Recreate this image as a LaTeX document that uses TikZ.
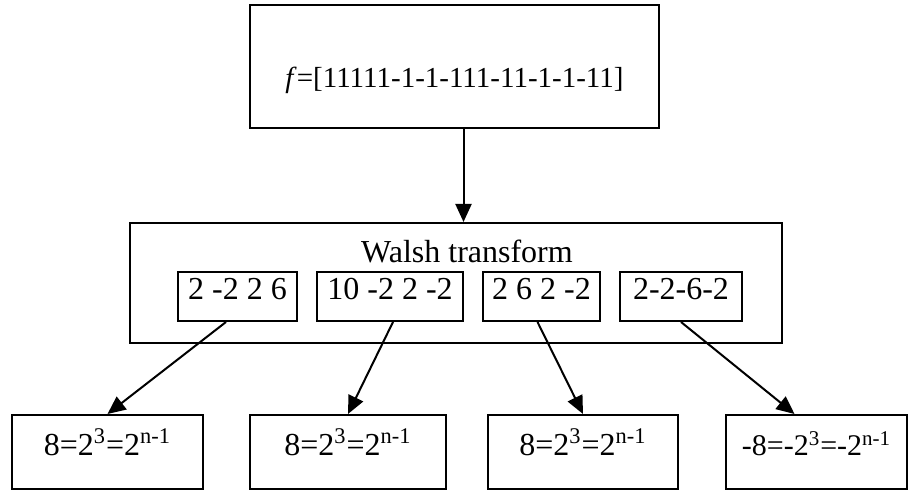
\documentclass[tikz,border=0pt]{standalone}
\usepackage{fontspec}
\setmainfont{Liberation Serif}
\usetikzlibrary{arrows.meta}

\begin{document}
\begin{tikzpicture}
        [x=0.5pt,y=-0.5pt,
        every node/.style={font=\fontsize{16}{19}\selectfont,inner sep=0pt},
        box/.style={draw=black,line width=1pt},
        vec/.style={box,text height=14pt,text depth=10.5pt,minimum height=24.5pt},
        res/.style={box,text height=20.5pt,text depth=16.5pt,minimum height=37pt},
        arr/.style={-{Triangle[length=9pt,width=8pt]},line width=1pt}]
        \useasboundingbox (0,0) rectangle (909,490);
        \node[box,minimum width=204.5pt,text height=41.5pt,text depth=20pt,
              font=\fontsize{14.5}{17}\selectfont] (f) at (454.5,66.5)
              {\textit{f}=[11111-1-1-111-11-1-1-11]};
        \node[box,minimum width=326pt,minimum height=60pt] (wt) at (456,283) {};
        \node[anchor=base] (title) at (467,263) {Walsh transform};
        \node[vec,minimum width=59.5pt] (w1) at (237.5,296.5) {2 -2 2 6};
        \node[vec,minimum width=73pt] (w2) at (390,296.5) {10 -2 2 -2};
        \node[vec,minimum width=58.5pt] (w3) at (541.5,296.5) {2 6 2 -2};
        \node[vec,minimum width=61pt] (w4) at (681,296.5) {2-2-6-2};
        \node[res,minimum width=95.5pt] (r1) at (107.5,452) {8=2\textsuperscript{3}=2\textsuperscript{n-1}};
        \node[res,minimum width=98pt] (r2) at (348,452) {8=2\textsuperscript{3}=2\textsuperscript{n-1}};
        \node[res,minimum width=95pt] (r3) at (583,452) {8=2\textsuperscript{3}=2\textsuperscript{n-1}};
        \node[res,minimum width=90.5pt,font=\fontsize{15}{18}\selectfont] (r4) at (816.5,452) {-8=-2\textsuperscript{3}=-2\textsuperscript{n-1}};
        \draw[arr] ([xshift=4.5pt]f.south) -- ([xshift=4.5pt]f.south |- wt.north);
        \draw[arr] ([xshift=-5.75pt]w1.south) -- (r1.north);
        \draw[arr] ([xshift=1.5pt]w2.south) -- (r2.north);
        \draw[arr] ([xshift=-2pt]w3.south) -- (r3.north);
        \draw[arr] (w4.south) -- ([xshift=-11pt]r4.north);
\end{tikzpicture}
\end{document}
